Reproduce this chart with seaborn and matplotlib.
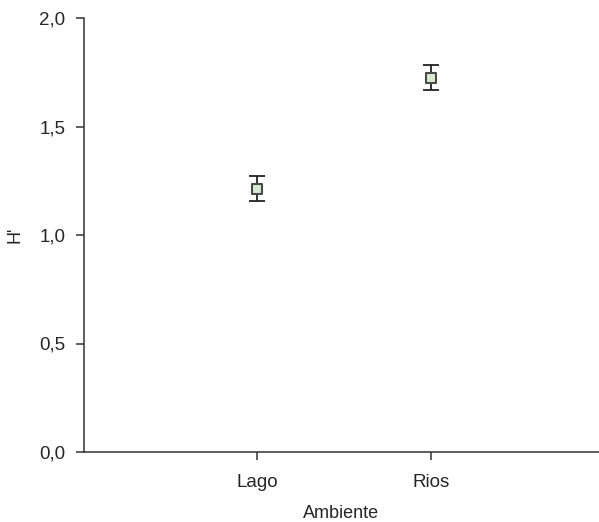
import matplotlib
matplotlib.use("Agg")
import matplotlib.pyplot as plt
import seaborn as sns
import pandas as pd
from matplotlib.ticker import FuncFormatter

categories = ["Lago", "Rios"]
means = [1.213, 1.725]
lower = [1.157, 1.667]
upper = [1.272, 1.784]

sns.set_style("ticks")
plt.rcParams['font.family'] = ['Liberation Sans', 'DejaVu Sans']

df = pd.DataFrame({"Ambiente": categories, "H": means})

fig = plt.figure(figsize=(5.99, 5.22), dpi=100)
ax = fig.add_axes([84/599, 1-452/522, 1-84/599, (452-18)/522])

pos = list(range(len(categories)))
yerr = [[m - l for m, l in zip(means, lower)], [u - m for m, u in zip(means, upper)]]
ax.errorbar(pos, means, yerr=yerr, fmt="none", ecolor="#222222", elinewidth=1.3,
            capsize=6, capthick=1.3, zorder=2)
sns.scatterplot(data=df, x="Ambiente", y="H", marker="s", s=50, color="#d6ebcf",
                edgecolor="#4a4a4a", linewidth=1.5, zorder=3, ax=ax, legend=False)

ax.set_xlim(-0.995, 1.966)
ax.set_ylim(0, 2.0)
ax.set_yticks([0, 0.5, 1.0, 1.5, 2.0])
ax.yaxis.set_major_formatter(FuncFormatter(lambda v, p: f"{v:.1f}".replace(".", ",")))
ax.set_xticks(pos)
ax.set_xticklabels(categories)

for s in ["top", "right"]:
    ax.spines[s].set_visible(False)
for s in ["left", "bottom"]:
    ax.spines[s].set_color("#333333")
    ax.spines[s].set_linewidth(1.1)
ax.tick_params(axis="both", direction="out", length=5.5, width=1.1, color="#333333",
               labelsize=13.5, labelcolor="#262626")
ax.tick_params(axis="x", pad=10)
ax.tick_params(axis="y", pad=8)
ax.set_xlabel("Ambiente", fontsize=13, color="#262626", labelpad=10.5)
ax.set_ylabel("H'", fontsize=13, color="#262626", labelpad=11)

fig.savefig("out.png", dpi=100)
